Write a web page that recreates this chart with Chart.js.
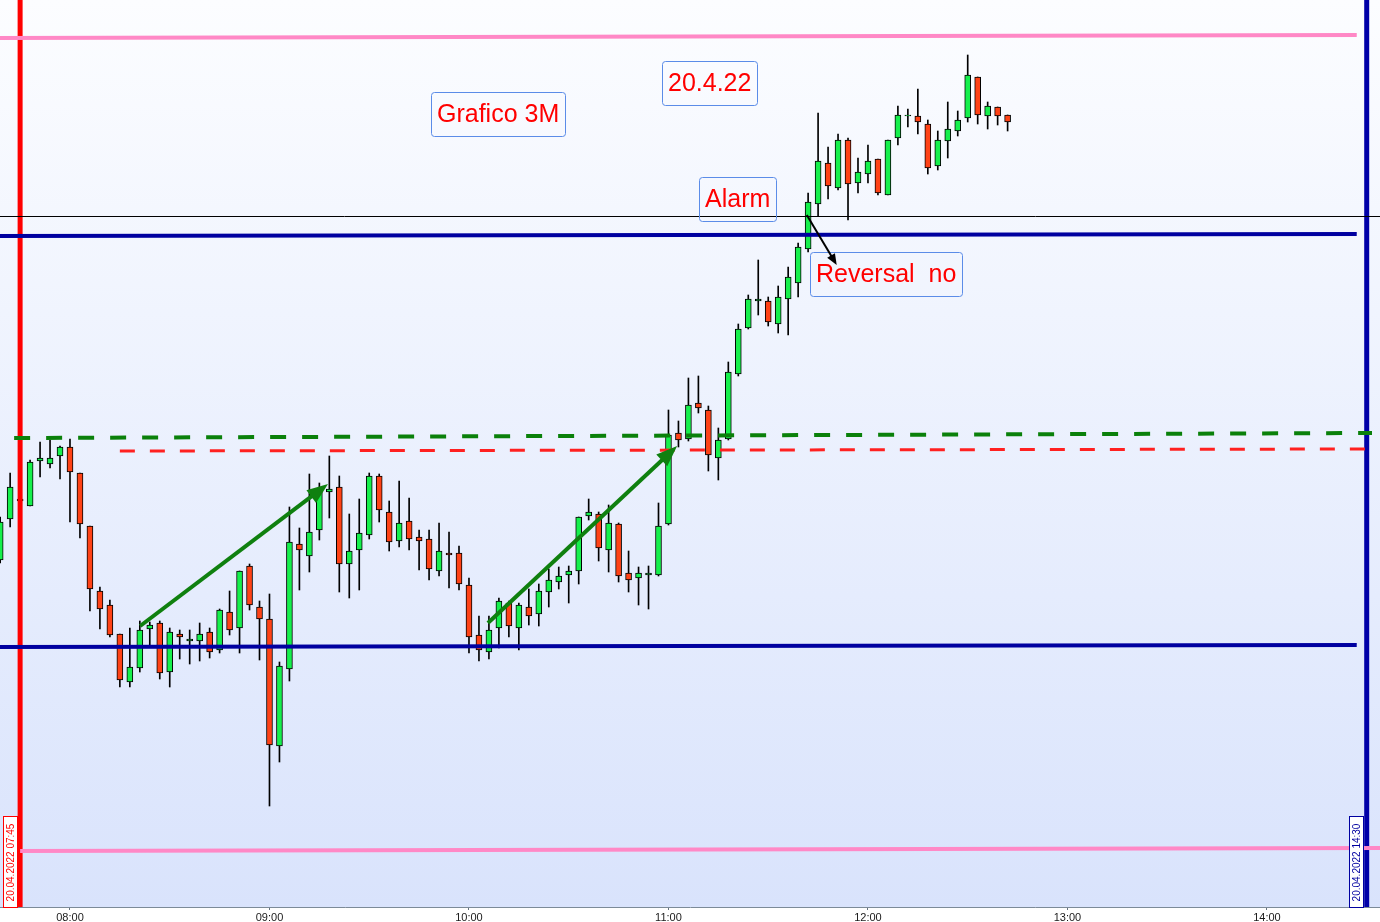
<!DOCTYPE html>
<html>
<head>
<meta charset="utf-8">
<title>Grafico 3M 20.4.22</title>
<script src="https://cdn.jsdelivr.net/npm/chart.js@4.4.1/dist/chart.umd.min.js"></script>
<style>
  html, body { margin: 0; padding: 0; background: #fff; }
  #wrap { width: 1380px; height: 922px; }
</style>
</head>
<body>
<div id="wrap"><canvas id="chart" width="1380" height="922"></canvas></div>
<script>
// 3 minute bars, 20.04.2022
const times = [
  '07:39','07:42','07:45','07:48','07:51','07:54','07:57',
  '08:00','08:03','08:06','08:09','08:12','08:15','08:18','08:21','08:24','08:27',
  '08:30','08:33','08:36','08:39','08:42','08:45','08:48','08:51','08:54','08:57',
  '09:00','09:03','09:06','09:09','09:12','09:15','09:18','09:21','09:24','09:27',
  '09:30','09:33','09:36','09:39','09:42','09:45','09:48','09:51','09:54','09:57',
  '10:00','10:03','10:06','10:09','10:12','10:15','10:18','10:21','10:24','10:27',
  '10:30','10:33','10:36','10:39','10:42','10:45','10:48','10:51','10:54','10:57',
  '11:00','11:03','11:06','11:09','11:12','11:15','11:18','11:21','11:24','11:27',
  '11:30','11:33','11:36','11:39','11:42','11:45','11:48','11:51','11:54','11:57',
  '12:00','12:03','12:06','12:09','12:12','12:15','12:18','12:21','12:24','12:27',
  '12:30','12:33','12:36','12:39','12:42'
];

const open = [
  14145,14165.5,14174.5,14172,14194.5,14193,14197,14201.5,14188.5,14162,
  14129.5,14122.5,14108,14084,14091,14110.5,14113.5,14089,14108,14104.5,
  14104.5,14109,14100,14119,14111,14142,14121.5,14115.5,14052,14090.5,
  14153,14147,14160,14179,14181.5,14143,14150,14157.5,14187,14169,
  14154.5,14164.5,14156.5,14155.5,14139.5,14148.5,14148.5,14132.5,14107.5,14099,
  14111,14123.5,14111,14121.5,14118,14129,14134,14137.5,14139.5,14167,
  14168,14150,14163,14138.5,14136,14137.5,14137.5,14163,14208.5,14205.5,
  14223.5,14220,14196,14205.5,14238,14261,14274.5,14274.5,14263,14275.5,
  14283.5,14300.5,14323,14343.5,14331,14355,14333.5,14338,14345.5,14327.5,
  14356,14367,14367,14363,14342,14354.5,14359.5,14366,14386.5,14367,
  14371.5,14367.5
];
const high = [
  14166.5,14188.5,14177.5,14195,14204,14205,14202,14205.5,14188.5,14162,
  14131.5,14125,14108,14111,14114.5,14114,14114.5,14111,14110,14110,
  14113.5,14111,14120.5,14129.5,14139.5,14143,14124.5,14128,14094,14171.5,
  14161,14188,14183.5,14197,14187,14168,14175.5,14188.5,14188,14174.5,
  14184.5,14176,14160,14160,14163.5,14159,14152,14136,14117,14117,
  14126,14124.5,14123.5,14130.5,14133,14140.5,14141.5,14142,14166.5,14175.5,
  14169,14172.5,14163.5,14149.5,14141.5,14142,14173.5,14220,14214.5,14236,
  14237,14222,14211,14244,14263,14277.5,14295,14276.5,14282,14291.5,
  14303.5,14328.5,14368.5,14351.5,14358,14356,14346,14352.5,14345.5,14355,
  14372,14370.5,14380.5,14365,14359.5,14374,14369.5,14397.5,14386.5,14374,
  14371.5,14367.5
];
const low = [
  14143.5,14161.5,14172.5,14172,14186.5,14191,14185.5,14164,14156,14119.5,
  14110.5,14106.5,14081.5,14081.5,14089,14101.5,14085.5,14081.5,14095.5,14093,
  14094.5,14096,14098.5,14107.5,14098.5,14120,14095,14022,14044,14084.5,
  14130,14139,14155,14166,14129,14126,14130,14155.5,14164,14149.5,
  14151.5,14150,14140,14135,14137,14131,14130,14098.5,14094.5,14095.5,
  14101,14106.5,14100,14112.5,14112,14121.5,14130.5,14123.5,14133,14165,
  14144.5,14139,14134,14129,14122.5,14120.5,14137,14162.5,14201.5,14204.5,
  14218.5,14189.5,14185,14205,14237,14260.5,14267.5,14262,14258.5,14257.5,
  14276.5,14299,14317,14325.5,14330,14315,14328.5,14333.5,14327.5,14327.5,
  14352.5,14361.5,14358,14338,14340,14346,14357,14364,14363,14360.5,
  14362.5,14359.5
];
const close = [
  14164,14181.5,14175.5,14194,14196,14196,14201.5,14189,14163,14130.5,
  14120.5,14107.5,14085,14091.5,14110,14112.5,14088.5,14109,14106.5,14105.5,
  14108,14099,14120,14110,14139.5,14122.5,14115.5,14052.5,14092,14154,
  14150,14159,14179.5,14180.5,14143,14149.5,14158.5,14187,14170,14154,
  14163.5,14155.5,14154.5,14140.5,14149.5,14147.5,14133,14106.5,14100,14110,
  14124.5,14112,14122.5,14117,14129.5,14135,14137,14139.5,14166.5,14169,
  14151,14163.5,14137,14135,14138.5,14138.5,14162,14207.5,14205,14222.5,
  14221,14197.5,14205,14239,14260.5,14275.5,14275.5,14264,14276.5,14286.5,
  14301.5,14324,14344.5,14332,14355,14333,14339,14344.5,14328.5,14355,
  14367.5,14367.5,14364,14341,14355,14360.5,14365,14387.5,14367.5,14372,
  14367,14364
];

const hourTicks = ['08:00','09:00','10:00','11:00','12:00','13:00','14:00'];

// visible range
const X_MIN = 458.95, X_MAX = 874;
const Y_MIN = 13971.5, Y_MAX = 14425;

// drawn levels: [time, price]
const pinkTop    = [['07:38', 14406], ['14:27', 14407.5]];
const pinkBottom = [['07:45', 13999.5], ['14:35', 14001]];
const blueTop    = [['07:38', 14307], ['14:27', 14308]];
const blueBottom = [['07:38', 14101.5], ['14:27', 14102.5]];
const alarmLine  = [['07:38', 14316.75], ['14:35', 14316.75]];
const greenDash  = [['07:43.2', 14206], ['14:31.6', 14208.5]];
const redDash    = [['08:15', 14199.5], ['14:30', 14200.5]];
const startTime = '07:45';
const endTime = '14:30';

const arrows = [
  { from: ['08:21.1', 14112], to: ['09:17.6', 14183], color: '#0f800f', width: 4, head: 21, headW: 16 },
  { from: ['10:05.7', 14113.5], to: ['11:02.6', 14202], color: '#0f800f', width: 4, head: 21, headW: 16 },
  { from: ['11:41.6', 14317.5], to: ['11:50.6', 14292.5], color: '#000000', width: 2, head: 11, headW: 9 }
];

const notes = [
  { text: 'Grafico 3M', t: '09:48.6', p: 14379 },
  { text: '20.4.22', t: '10:58', p: 14394.5 },
  { text: 'Alarm', t: '11:09.2', p: 14336.5 },
  { text: 'Reversal  no', t: '11:42.6', p: 14299 }
];

const stamps = [
  { text: '20.04.2022 07:45', t: startTime, color: '#ff0000' },
  { text: '20.04.2022 14:30', t: endTime, color: '#0000a0' }
];

const toMin = s => { const [h, m] = s.split(':'); return +h * 60 + parseFloat(m); };

const barX = times.map(toMin);
const wicks = barX.map((x, i) => ({ x, y: [low[i], high[i]] }));
const bodies = barX.map((x, i) => ({ x, y: [open[i], close[i]] }));
const bodyColors = close.map((c, i) => c >= open[i] ? '#16f04c' : '#ff4216');

function seg(points, color, width, dash) {
  return {
    type: 'line',
    data: points.map(p => ({ x: toMin(p[0]), y: p[1] })),
    borderColor: color,
    borderWidth: width,
    borderDash: dash || [],
    borderCapStyle: 'butt',
    pointRadius: 0,
    fill: false,
    tension: 0,
    order: 0
  };
}

const FONT = '"Liberation Sans", Arial, sans-serif';

const background = {
  id: 'background',
  beforeDraw(chart) {
    const { ctx, chartArea: a } = chart;
    ctx.save();
    ctx.fillStyle = '#ffffff';
    ctx.fillRect(0, 0, chart.width, chart.height);
    const g = ctx.createLinearGradient(0, a.top, 0, a.bottom);
    g.addColorStop(0, '#fcfdff');
    g.addColorStop(1, '#d9e3fc');
    ctx.fillStyle = g;
    ctx.fillRect(a.left, a.top, a.right - a.left, a.bottom - a.top);
    ctx.restore();
  }
};

const annotations = {
  id: 'annotations',
  afterDatasetsDraw(chart) {
    const { ctx, chartArea: a } = chart;
    const xs = chart.scales.x, ys = chart.scales.y;
    const px = t => xs.getPixelForValue(toMin(t));
    const py = p => ys.getPixelForValue(p);
    ctx.save();

    // text boxes
    ctx.font = '25px ' + FONT;
    ctx.textBaseline = 'alphabetic';
    notes.forEach(n => {
      const x = Math.round(px(n.t)), y = Math.round(py(n.p));
      const w = Math.round(ctx.measureText(n.text).width + 12), h = 44;
      ctx.beginPath();
      ctx.roundRect(x + 0.5, y + 0.5, w, h, 3);
      ctx.strokeStyle = '#5b8ce8';
      ctx.lineWidth = 1;
      ctx.stroke();
      ctx.fillStyle = '#ff0000';
      ctx.fillText(n.text, x + 6, y + 30);
    });

    // arrows
    arrows.forEach(ar => {
      const x1 = px(ar.from[0]), y1 = py(ar.from[1]);
      const x2 = px(ar.to[0]), y2 = py(ar.to[1]);
      const len = Math.hypot(x2 - x1, y2 - y1);
      const ux = (x2 - x1) / len, uy = (y2 - y1) / len;
      const bx = x2 - ux * ar.head, by = y2 - uy * ar.head;
      ctx.strokeStyle = ar.color;
      ctx.fillStyle = ar.color;
      ctx.lineWidth = ar.width;
      ctx.beginPath();
      ctx.moveTo(x1, y1);
      ctx.lineTo(bx + ux * 2, by + uy * 2);
      ctx.stroke();
      ctx.beginPath();
      ctx.moveTo(x2, y2);
      ctx.lineTo(bx - uy * ar.headW / 2, by + ux * ar.headW / 2);
      ctx.lineTo(bx + uy * ar.headW / 2, by - ux * ar.headW / 2);
      ctx.closePath();
      ctx.fill();
    });

    // date stamps beside the vertical lines
    ctx.font = '10px ' + FONT;
    stamps.forEach(s => {
      const lx = px(s.t);
      const w = 15, h = 91;
      const bx = Math.round(lx - 2.5 - w), by = Math.round(a.bottom - h);
      ctx.fillStyle = '#ffffff';
      ctx.fillRect(bx, by, w, h);
      ctx.strokeStyle = s.color;
      ctx.lineWidth = 1;
      ctx.strokeRect(bx + 0.5, by + 0.5, w - 1, h);
      ctx.save();
      ctx.translate(bx + w / 2 + 0.5, by + h / 2 + 1);
      ctx.rotate(-Math.PI / 2);
      ctx.textAlign = 'center';
      ctx.textBaseline = 'middle';
      ctx.fillStyle = s.color;
      ctx.fillText(s.text, 0, 0);
      ctx.restore();
    });

    ctx.restore();
  }
};

new Chart(document.getElementById('chart'), {
  type: 'bar',
  data: {
    datasets: [
      {
        label: 'wick',
        data: wicks,
        backgroundColor: '#000000',
        barThickness: 1,
        grouped: false,
        order: 3
      },
      {
        label: 'body',
        data: bodies,
        backgroundColor: bodyColors,
        borderColor: '#000000',
        borderWidth: 1,
        borderSkipped: false,
        barThickness: 6,
        grouped: false,
        order: 2
      },
      seg(pinkTop, '#ff88c6', 4),
      seg(pinkBottom, '#ff88c6', 4),
      seg(blueTop, '#0000a0', 4),
      seg(blueBottom, '#0000a0', 4),
      seg(alarmLine, '#000000', 1),
      seg(greenDash, '#0a800a', 4, [16, 16]),
      seg(redDash, '#ff2020', 3, [15, 15]),
      seg([[startTime, Y_MIN], [startTime, Y_MAX]], '#ff0000', 5),
      seg([[endTime, Y_MIN], [endTime, Y_MAX]], '#0000a8', 5)
    ]
  },
  options: {
    responsive: false,
    devicePixelRatio: 1,
    animation: false,
    events: [],
    layout: { padding: 0 },
    plugins: {
      legend: { display: false },
      tooltip: { enabled: false }
    },
    scales: {
      x: {
        type: 'linear',
        min: X_MIN,
        max: X_MAX,
        offset: false,
        afterBuildTicks: axis => { axis.ticks = hourTicks.map(h => ({ value: toMin(h) })); },
        afterFit: axis => { axis.height = 15; },
        ticks: {
          callback: (v, i) => hourTicks[i],
          font: { family: FONT, size: 11 },
          color: '#1a1a1a',
          padding: 1,
          maxRotation: 0,
          autoSkip: false
        },
        grid: { display: true, offset: false, drawOnChartArea: false, drawTicks: true, tickLength: 3, color: '#66727f' },
        border: { display: true, color: '#7c8a98', width: 1 }
      },
      y: {
        display: false,
        min: Y_MIN,
        max: Y_MAX
      }
    }
  },
  plugins: [background, annotations]
});
</script>
</body>
</html>
